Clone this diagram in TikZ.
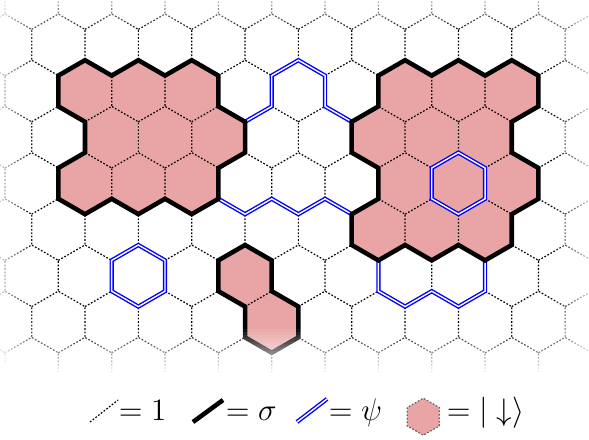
\documentclass[tikz,border=0pt]{standalone}
\usepackage{amsmath,amssymb}
\usepackage{tikz}
\usetikzlibrary{shapes.geometric}
\definecolor{downpink}{RGB}{233,165,166}

% one hexagon around the origin (x = half width, y = half side)
\newcommand{\hexpath}{(0,2) -- (1,1) -- (1,-1) -- (0,-2) -- (-1,-1) -- (-1,1) -- cycle}

\begin{document}
\begin{tikzpicture}[
  latt/.style={dash pattern=on 0.8pt off 0.8pt, line width=0.55pt},
  sig/.style={line width=2.1pt},
  psi/.style={draw=blue, double=white, double distance=0.65pt, line width=0.65pt},
  down/.style={fill=downpink},
  lbl/.style={anchor=base west, inner sep=0pt, font=\fontsize{14}{16}\selectfont},
]
\useasboundingbox (0,0) rectangle (9.562,-7.127);

% ─── Lattice ───
\begin{scope}
\clip (0,0) rectangle (9.562,-7.127);
\begin{scope}[shift={(0.081,-0.727)}, x=0.433cm, y=0.25cm]

% spin-down plaquettes
\foreach \q/\r in {3/1,5/1,7/1,4/2,6/2,8/2,3/3,5/3,7/3,
                   15/1,17/1,19/1,14/2,16/2,18/2,15/3,17/3,19/3,14/4,16/4,18/4,
                   9/5,10/6}
  \fill[down, shift={(\q,-3*\r)}] \hexpath;

% dotted honeycomb
\foreach \r in {-1,...,7}
  \foreach \k in {-1,...,12}{
    \pgfmathtruncatemacro{\q}{2*\k+mod(\r+2,2)}
    \draw[latt] (\q-1,-3*\r+1) -- (\q,-3*\r+2) -- (\q+1,-3*\r+1) -- (\q+1,-3*\r-1);
  }

% psi strings
\draw[psi] (9,-5) -- (10,-4) -- (10,-2) -- (11,-1) -- (12,-2) -- (12,-4) -- (13,-5);
\draw[psi] (8,-10) -- (9,-11) -- (10,-10) -- (11,-11) -- (12,-10) -- (13,-11);
\draw[psi] (14,-14) -- (14,-16) -- (15,-17) -- (16,-16) -- (17,-17) -- (18,-16) -- (18,-14);
\draw[psi, shift={(5,-15)}] \hexpath;
\draw[psi, shift={(17,-9)}] \hexpath;

% sigma domain walls
\draw[sig] (2,-2) -- (3,-1) -- (4,-2) -- (5,-1) -- (6,-2) -- (7,-1) -- (8,-2) -- (8,-4)
  -- (9,-5) -- (9,-7) -- (8,-8) -- (8,-10) -- (7,-11) -- (6,-10) -- (5,-11) -- (4,-10)
  -- (3,-11) -- (2,-10) -- (2,-8) -- (3,-7) -- (3,-5) -- (2,-4) -- cycle;
\draw[sig] (14,-2) -- (15,-1) -- (16,-2) -- (17,-1) -- (18,-2) -- (19,-1) -- (20,-2) -- (20,-4)
  -- (19,-5) -- (19,-7) -- (20,-8) -- (20,-10) -- (19,-11) -- (19,-13) -- (18,-14) -- (17,-13)
  -- (16,-14) -- (15,-13) -- (14,-14) -- (13,-13) -- (13,-11) -- (14,-10) -- (14,-8) -- (13,-7)
  -- (13,-5) -- (14,-4) -- cycle;
\draw[sig] (8,-14) -- (9,-13) -- (10,-14) -- (10,-16) -- (11,-17) -- (11,-19) -- (10,-20)
  -- (9,-19) -- (9,-17) -- (8,-16) -- cycle;

\end{scope}
\end{scope}

% ─── Soft border: white frames, stacked ───
\foreach \k in {1,...,15}{
  \pgfmathsetmacro{\op}{1/(16-\k)}
  \pgfmathsetmacro{\d}{0.05*(15-\k)}
  \fill[white, opacity=\op, even odd rule] (-1,1) rectangle (11,-8)
    [rounded corners=6mm] (-0.13+\d,0.19-\d) rectangle (9.69-\d,-6.04+\d);
}

% ─── Legend ───
\coordinate (k1a) at (1.461,-6.851);  \coordinate (k1b) at (1.916,-6.494);
\coordinate (k2a) at (3.133,-6.851);  \coordinate (k2b) at (3.620,-6.494);
\coordinate (k3a) at (4.821,-6.851);  \coordinate (k3b) at (5.309,-6.477);
\draw[latt] (k1a) -- (k1b);
\draw[sig] (k2a) -- (k2b);
\draw[psi] (k3a) -- (k3b);
\node[lbl] (lgone) at (1.922,-6.826) {$=1$};
\node[lbl] (lgsig) at (3.659,-6.826) {$=\sigma$};
\node[lbl] (lgpsi) at (5.331,-6.826) {$=\psi$};
\node[down, regular polygon, regular polygon sides=6, shape border rotate=90,
      draw=black!60, latt, inner sep=0pt, minimum size=0.6cm] (lghex) at (6.872,-6.765) {};
\node[lbl] (lgdown) at (7.247,-6.826) {$=|\downarrow\rangle$};

\end{tikzpicture}
\end{document}
